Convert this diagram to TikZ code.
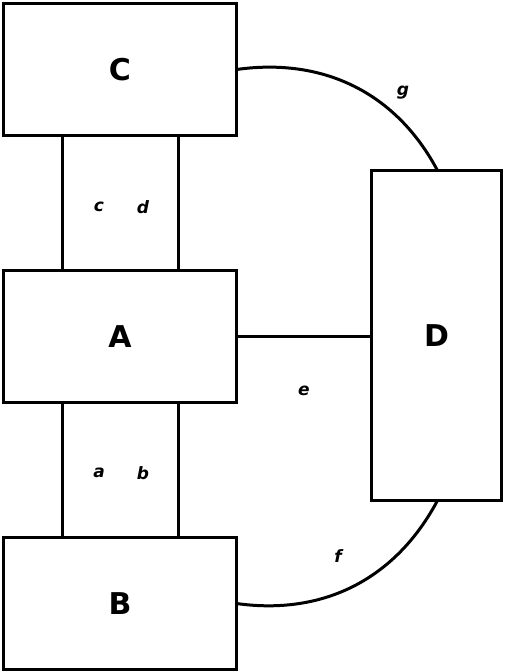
\documentclass[tikz,border=0pt]{standalone}
\usepackage{fontspec}
\setmainfont{DejaVu Sans}
\begin{document}
\begin{tikzpicture}[x=1pt,y=-1pt,line width=3pt,
  box/.style={draw,rectangle,anchor=north west,inner sep=0pt,outer sep=0pt,font=\fontsize{30}{30}\selectfont\bfseries},
  lbl/.style={font=\fontsize{17}{17}\selectfont\bfseries\itshape,inner sep=0pt}]
\useasboundingbox (0,0) rectangle (505,672);
\node[box,minimum width=233pt,minimum height=132pt] (C) at (3.5,3.5) {C};
\node[box,minimum width=233pt,minimum height=132pt] (A) at (3.5,270.5) {A};
\node[box,minimum width=233pt,minimum height=132pt] (B) at (3.5,537.5) {B};
\node[box,minimum width=130pt,minimum height=330pt] (D) at (371.5,170.5) {D};
\draw ([xshift=-58pt]C.south) -- ([xshift=-58pt]A.north);
\draw ([xshift=58pt]C.south) -- ([xshift=58pt]A.north);
\draw ([xshift=-58pt]A.south) -- ([xshift=-58pt]B.north);
\draw ([xshift=58pt]A.south) -- ([xshift=58pt]B.north);
\draw (A.east) -- (A.east -| D.west);
\draw (C.east) to[out=8,in=118] ([xshift=1pt]D.north);
\draw (B.east) to[out=-8,in=-118] ([xshift=1pt]D.south);
\node[lbl] (lc) at (99,207) {c};
\node[lbl] (ld) at (143,207) {d};
\node[lbl] (la) at (99,473) {a};
\node[lbl] (lb) at (143,473) {b};
\node[lbl] (le) at (304,391) {e};
\node[lbl] (lf) at (338,556) {f};
\node[lbl] (lg) at (403,93) {g};
\end{tikzpicture}
\end{document}
